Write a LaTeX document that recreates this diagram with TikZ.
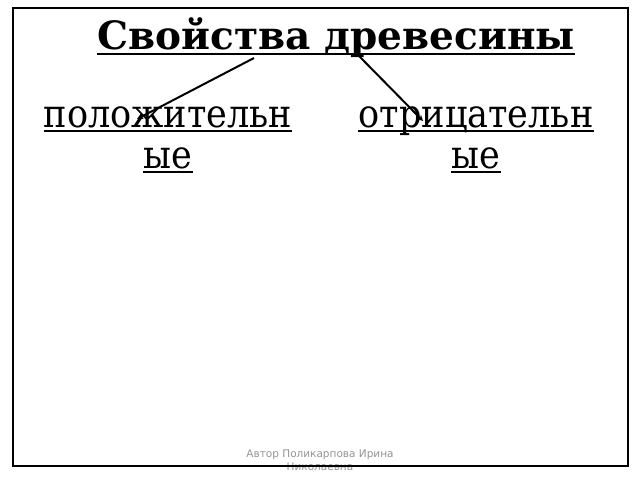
\documentclass[tikz,border=0pt]{standalone}
\usepackage{fontspec}
\setmainfont{DejaVu Serif}
\newfontfamily\condfont{DejaVu Serif Condensed}
\newfontfamily\footfont{DejaVu Sans}
\usetikzlibrary{arrows.meta}
\begin{document}
\begin{tikzpicture}[x=1bp,y=-1bp,
  titletext/.style={inner sep=0pt,anchor=base,font=\fontsize{39bp}{44bp}\selectfont\bfseries},
  bodytext/.style={inner sep=0pt,anchor=base,font=\condfont\fontsize{39bp}{44bp}\selectfont},
  foottext/.style={inner sep=0pt,anchor=base,text=black!42,font=\footfont\fontsize{10.5bp}{13bp}\selectfont},
  uline/.style={line width=2bp},
  conn/.style={line width=2bp,-{Stealth[length=6bp,width=6bp]}},
  frame/.style={line width=2bp}]
\useasboundingbox (0,0) rectangle (640,480);
\fill[white] (0,0) rectangle (640,480);
% texts
\node[titletext] (title) at (336,50) {Свойства древесины};
\node[bodytext] (pos1) at (168,128) {положительн};
\node[bodytext] (pos2) at (168,169) {ые};
\node[bodytext] (neg1) at (476,128) {отрицательн};
\node[bodytext] (neg2) at (476,169) {ые};
\node[foottext] (foot1) at (320,457) {Автор Поликарпова Ирина};
\node[foottext] (foot2) at (320,470) {Николаевна};
% underlines
\foreach \n/\d in {title/4,pos1/3,pos2/3,neg1/3,neg2/3}
  \draw[uline] ([yshift=-\d bp]\n.base west) -- ([yshift=-\d bp]\n.base east);
% connectors
\coordinate (s1) at (254,58);
\coordinate (e1) at (137,119);
\coordinate (s2) at (358,55);
\coordinate (e2) at (423,121);
\draw[conn] (s1) -- (e1);
\draw[conn] (s2) -- (e2);
% frame
\draw[frame] (13,8) rectangle (628,466);
\end{tikzpicture}
\end{document}
